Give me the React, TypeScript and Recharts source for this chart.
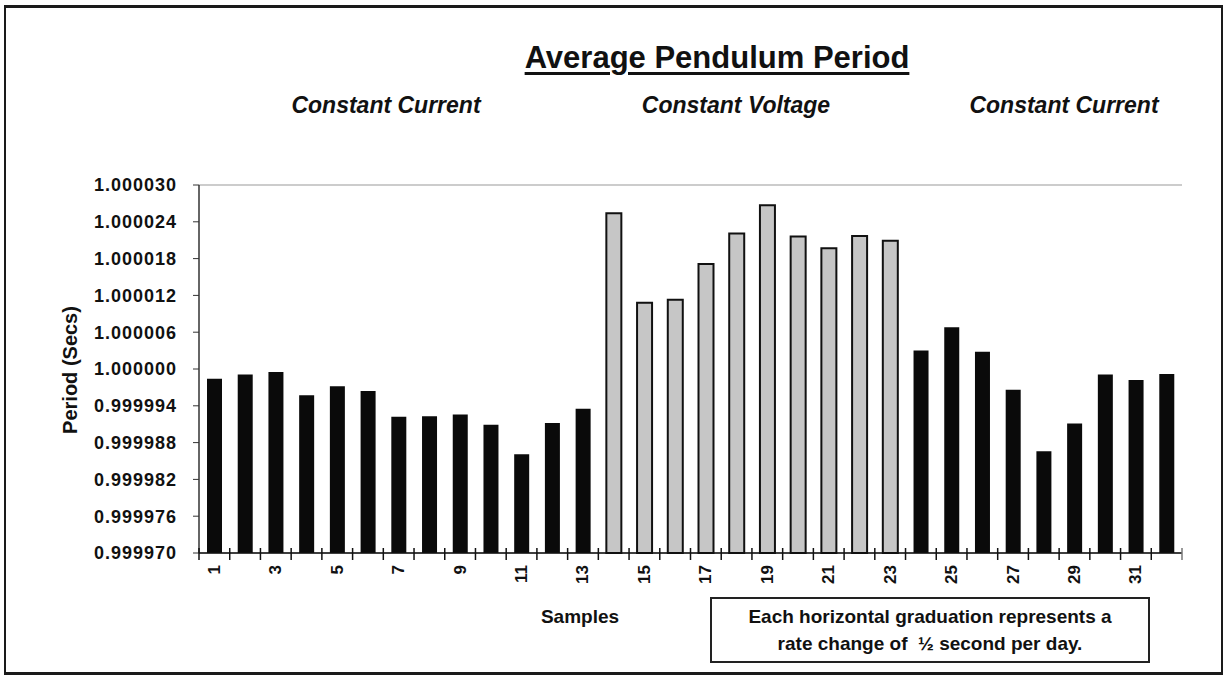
import React from 'react';
import { Bar, BarChart, CartesianGrid, Cell, XAxis, YAxis } from 'recharts';

// sample numbers along the x axis
const samples = [
    '1', '2', '3', '4', '5', '6', '7', '8', '9', '10', '11', '12', '13', '14', '15', '16',
    '17', '18', '19', '20', '21', '22', '23', '24', '25', '26', '27', '28', '29', '30', '31', '32'
];

// average period per sample (secs)
const periods = [
    0.9999984, 0.9999991, 0.9999995, 0.9999957, 0.9999972, 0.9999964, 0.9999922, 0.9999923,
    0.9999926, 0.9999909, 0.9999861, 0.9999912, 0.9999935,
    1.0000254, 1.0000108, 1.0000113, 1.0000171, 1.0000221, 1.0000267, 1.0000216, 1.0000197,
    1.0000217, 1.0000209,
    1.0000030, 1.0000068, 1.0000028, 0.9999966, 0.9999866, 0.9999911, 0.9999991, 0.9999982,
    0.9999992
];

// drive mode per sample: CC = constant current, CV = constant voltage
const modes = [
    'CC', 'CC', 'CC', 'CC', 'CC', 'CC', 'CC', 'CC', 'CC', 'CC', 'CC', 'CC', 'CC',
    'CV', 'CV', 'CV', 'CV', 'CV', 'CV', 'CV', 'CV', 'CV', 'CV',
    'CC', 'CC', 'CC', 'CC', 'CC', 'CC', 'CC', 'CC', 'CC'
];

const yTicks = [
    0.999970, 0.999976, 0.999982, 0.999988, 0.999994, 1.000000, 1.000006, 1.000012,
    1.000018, 1.000024, 1.000030
];

const sectionLabels = ['Constant Current', 'Constant Voltage', 'Constant Current'];

const FONT = '"Liberation Sans", Arial, sans-serif';

const data = samples.map((s, i) => ({ sample: s, period: periods[i], mode: modes[i] }));

const TICK_SIZE = 6;
const TICK_MARGIN = 4;

// x tick: boundary marks between categories, rotated label on odd samples
const SampleTick = (props: any) => {
    const { x, y, payload } = props;
    const half = payload.offset || 0;
    const axisY = y - TICK_SIZE - TICK_MARGIN;
    const idx = payload.index;
    const isLast = idx === samples.length - 1;
    return (
        <g>
            <line x1={x - half} x2={x - half} y1={axisY - 5} y2={axisY + 7} stroke="#111" strokeWidth={1.5} />
            {isLast && (
                <line x1={x + half} x2={x + half} y1={axisY - 5} y2={axisY + 7} stroke="#777" strokeWidth={1.5} />
            )}
            {idx % 2 === 0 && (
                <text
                    transform={`translate(${x},${y + 2}) rotate(-90)`}
                    textAnchor="end"
                    dominantBaseline="central"
                    fontFamily={FONT}
                    fontWeight="bold"
                    fontSize={17}
                    fill="#111"
                >
                    {payload.value}
                </text>
            )}
        </g>
    );
};

const abs = (left: number, top: number, extra: React.CSSProperties = {}): React.CSSProperties => ({
    position: 'absolute',
    left,
    top,
    fontFamily: FONT,
    fontWeight: 'bold',
    color: '#111',
    whiteSpace: 'nowrap',
    ...extra
});

const subStyle: React.CSSProperties = { fontSize: 23, fontStyle: 'italic', transform: 'translateX(-50%)' };

export default function App() {
    return (
        <div style={{ position: 'relative', width: 1225, height: 676, background: '#fff', overflow: 'hidden' }}>
            <style>{'body{margin:0}'}</style>
            <div
                style={{
                    position: 'absolute',
                    left: 4,
                    top: 5,
                    width: 1215,
                    height: 664,
                    borderStyle: 'solid',
                    borderColor: '#1a1a1a',
                    borderWidth: '3px 2px 3px 2px'
                }}
            />
            <BarChart
                width={1225}
                height={676}
                data={data}
                margin={{ top: 185, right: 43, bottom: 83, left: 0 }}
                barCategoryGap="50%"
            >
                <CartesianGrid horizontal vertical={false} stroke="#9a9a9a" strokeWidth={1.2} />
                <XAxis
                    dataKey="sample"
                    height={40}
                    interval={0}
                    tickLine={false}
                    tickSize={TICK_SIZE}
                    tickMargin={TICK_MARGIN}
                    axisLine={{ stroke: '#111', strokeWidth: 1.5 }}
                    tick={<SampleTick />}
                />
                <YAxis
                    yAxisId="left"
                    width={199}
                    domain={[yTicks[0], yTicks[yTicks.length - 1]]}
                    ticks={yTicks}
                    interval={0}
                    tickFormatter={(v: number) => v.toFixed(6)}
                    tickSize={6}
                    tickMargin={16}
                    tickLine={{ stroke: '#333' }}
                    axisLine={{ stroke: '#333', strokeWidth: 1.5 }}
                    tick={{ fontFamily: FONT, fontWeight: 'bold', fontSize: 18, fill: '#111', letterSpacing: 1 }}
                />
                <YAxis
                    yAxisId="right"
                    orientation="right"
                    width={0}
                    domain={[yTicks[0], yTicks[yTicks.length - 1]]}
                    tick={false}
                    tickLine={false}
                    axisLine={{ stroke: '#999', strokeWidth: 1.2 }}
                />
                <Bar dataKey="period" yAxisId="left" barSize={15} isAnimationActive={false}>
                    {data.map((d, i) => (
                        <Cell
                            key={i}
                            fill={d.mode === 'CV' ? '#c6c6c6' : '#0a0a0a'}
                            stroke={d.mode === 'CV' ? '#111' : 'none'}
                            strokeWidth={d.mode === 'CV' ? 2 : 0}
                        />
                    ))}
                </Bar>
            </BarChart>

            <div style={abs(717, 40, { fontSize: 31, textDecoration: 'underline', textUnderlineOffset: 4, transform: 'translateX(-50%)' })}>
                Average Pendulum Period
            </div>
            <div style={abs(386, 92, subStyle)}>{sectionLabels[0]}</div>
            <div style={abs(736, 92, subStyle)}>{sectionLabels[1]}</div>
            <div style={abs(1064, 92, subStyle)}>{sectionLabels[2]}</div>

            <div style={abs(70, 370, { fontSize: 20, transform: 'translate(-50%, -50%) rotate(-90deg)' })}>
                Period (Secs)
            </div>
            <div style={abs(580, 606, { fontSize: 19, transform: 'translateX(-50%)' })}>Samples</div>

            <div
                style={abs(710, 597, {
                    width: 440,
                    height: 66,
                    border: '2px solid #222',
                    fontSize: 19,
                    textAlign: 'center',
                    lineHeight: '27px',
                    paddingTop: 4,
                    boxSizing: 'border-box'
                })}
            >
                Each horizontal graduation represents a
                <br />
                rate change of &nbsp;½ second per day.
            </div>
        </div>
    );
}
